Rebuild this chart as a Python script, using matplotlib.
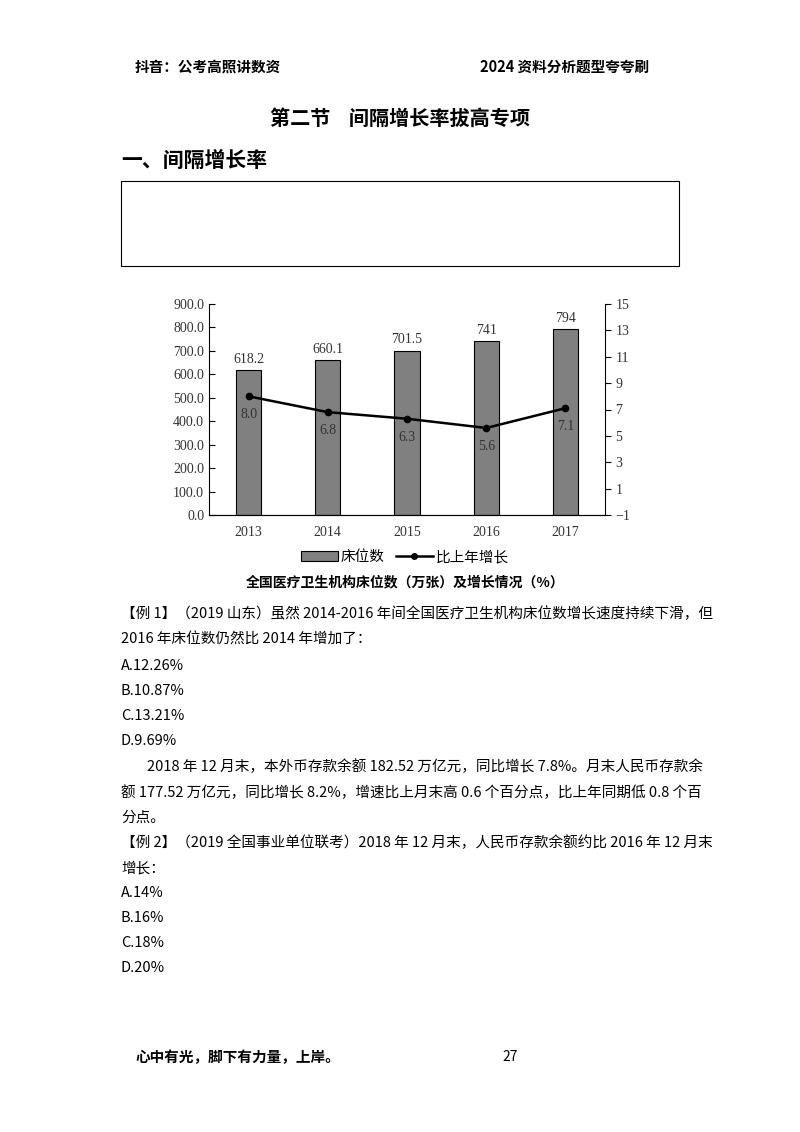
import matplotlib
matplotlib.use("Agg")
import matplotlib.pyplot as plt
from matplotlib.patches import Rectangle
from matplotlib.lines import Line2D

plt.rcParams['font.family'] = ['Noto Sans CJK SC', 'DejaVu Sans']

years = ["2013", "2014", "2015", "2016", "2017"]
beds = [618.2, 660.1, 701.5, 741, 794]
bed_labels = ["618.2", "660.1", "701.5", "741", "794"]
growth = [8.0, 6.8, 6.3, 5.6, 7.1]
growth_labels = ["8.0", "6.8", "6.3", "5.6", "7.1"]
left_ticks = [0, 100, 200, 300, 400, 500, 600, 700, 800, 900]
right_ticks = [-1, 1, 3, 5, 7, 9, 11, 13, 15]

W, H = 800, 1132
fig = plt.figure(figsize=(8, 11.32), dpi=100)

def T(x, y, s, size=10.5, weight='normal', ha='left', family=None, **kw):
    kws = dict(fontsize=size, fontweight=weight, ha=ha, va='center')
    if family:
        kws['family'] = family
    kws.update(kw)
    fig.text(x / W, 1 - y / H, s, **kws)

T(135, 67, "抖音：公考高照讲数资", 10.5, 'bold')
T(480, 67, "2024 资料分析题型夸夸刷", 10.5, 'bold')
T(400, 118, "第二节    间隔增长率拔高专项", 14.5, 'bold', ha='center')
T(121, 160, "一、间隔增长率", 15, 'bold')
fig.add_artist(Rectangle((121 / W, 1 - 266 / H), 558 / W, 85 / H, transform=fig.transFigure,
                         fill=False, lw=0.8, ec='black'))

ax = fig.add_axes([209 / W, 1 - 515 / H, 396 / W, 211 / H])
serif = ['Liberation Serif', 'DejaVu Serif']
x = list(range(len(years)))
ax.bar(x, beds, width=0.32, color='#808080', edgecolor='black', lw=0.8, zorder=2)
for i, (v, l) in enumerate(zip(beds, bed_labels)):
    ax.text(i, v + 18, l, ha='center', va='bottom', fontsize=10, family=serif, color='#333333')
ax.set_ylim(0, 900)
ax.set_xlim(-0.5, 4.5)
ax.set_yticks(left_ticks)
ax.set_yticklabels([f"{t:.1f}" for t in left_ticks], family=serif, fontsize=10, color='#333333')
ax.set_xticks(x)
ax.set_xticklabels(years, family=serif, fontsize=10, color='#333333')
ax.tick_params(axis='x', length=0, pad=8)
ax.tick_params(axis='y', direction='in', length=4)
for s in ['top', 'right']:
    ax.spines[s].set_visible(False)
ax2 = ax.twinx()
ax2.plot(x, growth, color='black', lw=1.8, marker='o', ms=4.5, zorder=3)
for i, (v, l) in enumerate(zip(growth, growth_labels)):
    ax2.text(i, v - 0.9, l, ha='center', va='top', fontsize=10, family=serif, color='#333333')
ax2.set_ylim(-1, 15)
ax2.set_yticks(right_ticks)
ax2.set_yticklabels([str(t) if t >= 0 else "−1" for t in right_ticks], family=serif, fontsize=10, color='#333333')
ax2.tick_params(axis='y', direction='out', length=4)
ax2.spines['top'].set_visible(False)
ax2.spines['left'].set_visible(False)

handles = [Rectangle((0, 0), 1, 1, fc='#808080', ec='black', lw=0.8),
           Line2D([0], [0], color='black', lw=1.8, marker='o', ms=4)]
fig.legend(handles, ["床位数", "比上年增长"], loc='center', bbox_to_anchor=(405 / W, 1 - 557 / H),
           ncol=2, frameon=False, fontsize=10.5, handlelength=2.5, columnspacing=0.8, handletextpad=0.2)
T(405, 582, "全国医疗卫生机构床位数（万张）及增长情况（%）", 10, 'bold', ha='center')

body = [
    (121, 614, "【例 1】（2019 山东）虽然 2014-2016 年间全国医疗卫生机构床位数增长速度持续下滑，但"),
    (121, 640, "2016 年床位数仍然比 2014 年增加了："),
    (121, 666, "A.12.26%"),
    (121, 691, "B.10.87%"),
    (121, 716, "C.13.21%"),
    (121, 741, "D.9.69%"),
    (147, 767, "2018 年 12 月末，本外币存款余额 182.52 万亿元，同比增长 7.8%。月末人民币存款余"),
    (121, 793, "额 177.52 万亿元，同比增长 8.2%，增速比上月末高 0.6 个百分点，比上年同期低 0.8 个百"),
    (121, 818, "分点。"),
    (121, 843, "【例 2】（2019 全国事业单位联考）2018 年 12 月末，人民币存款余额约比 2016 年 12 月末"),
    (121, 868, "增长："),
    (121, 893, "A.14%"),
    (121, 918, "B.16%"),
    (121, 943, "C.18%"),
    (121, 968, "D.20%"),
]
for bx, by, s in body:
    T(bx, by, s, 10.5)

T(135, 1057, "心中有光，脚下有力量，上岸。", 10.5, 'bold')
T(510, 1057, "27", 10, ha='center')

fig.savefig("out.png", dpi=100, facecolor='white')
